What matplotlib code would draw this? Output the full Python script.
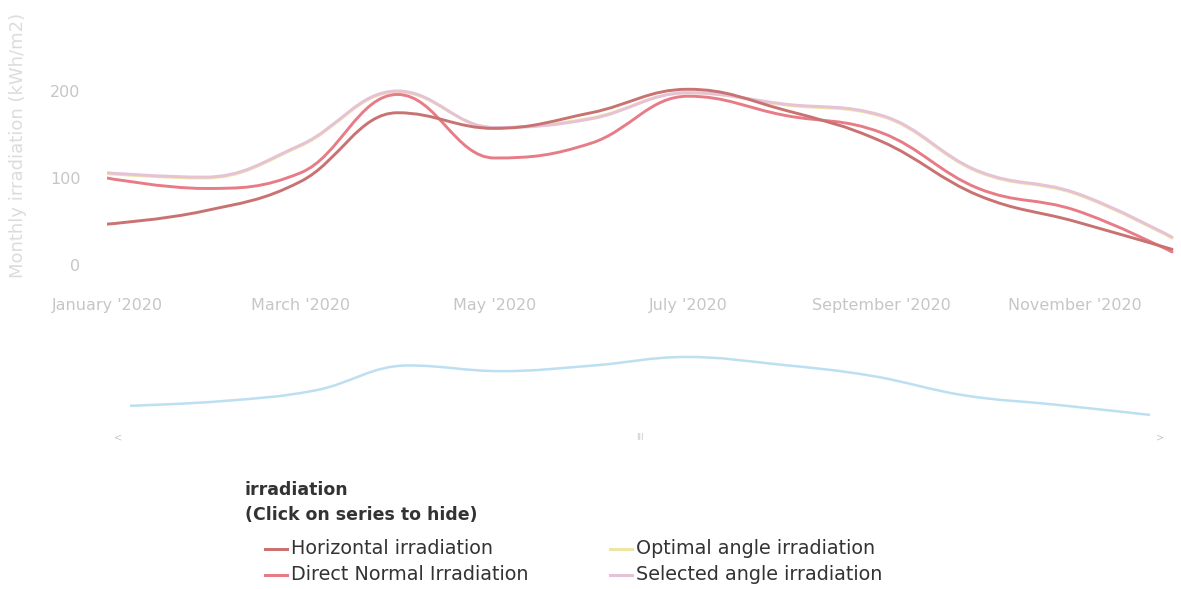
import matplotlib
matplotlib.use("Agg")
import matplotlib.pyplot as plt
import numpy as np
from matplotlib.lines import Line2D
from matplotlib.path import Path
from matplotlib.patches import PathPatch

months = ["Jan", "Feb", "Mar", "Apr", "May", "Jun", "Jul", "Aug", "Sep", "Oct", "Nov", "Dec"]
tick_labels = ["January '2020", "March '2020", "May '2020", "July '2020", "September '2020", "November '2020"]
horizontal = [47, 62, 96, 175, 157, 175, 202, 178, 142, 80, 50, 18]
direct_normal = [100, 88, 106, 196, 123, 140, 194, 172, 152, 88, 63, 15]
optimal_angle = [105, 100, 137, 199, 158, 169, 198, 184, 171, 107, 82, 31]
selected_angle = [106, 101, 138, 200, 158, 168, 198, 185, 172, 108, 83, 32]
series_names = ["Horizontal irradiation", "Direct Normal Irradiation",
                "Optimal angle irradiation", "Selected angle irradiation"]
colors = ["#c97272", "#e87c86", "#efe3a6", "#e6c2d6"]

W, H = 1181, 589
fig = plt.figure(figsize=(W / 100, H / 100), dpi=100)


def frac(x0, y0, x1, y1):
    return [x0 / W, 1 - y1 / H, (x1 - x0) / W, (y1 - y0) / H]


def spline_path(xs, ys, smoothing=1.5):
    """Highcharts-style spline as cubic Bezier path (data coordinates)."""
    xs = np.asarray(xs, float)
    ys = np.asarray(ys, float)
    n = len(xs)
    denom = smoothing + 1
    left = [None] * n
    right = [None] * n
    for i in range(1, n - 1):
        lx, ly = xs[i - 1], ys[i - 1]
        nx, ny = xs[i + 1], ys[i + 1]
        px, py = xs[i], ys[i]
        lcx = (smoothing * px + lx) / denom
        lcy = (smoothing * py + ly) / denom
        rcx = (smoothing * px + nx) / denom
        rcy = (smoothing * py + ny) / denom
        if rcx != lcx:
            corr = ((rcy - lcy) * (rcx - px)) / (rcx - lcx) + py - rcy
            lcy += corr
            rcy += corr
        if lcy > ly and lcy > py:
            lcy = max(ly, py)
            rcy = 2 * py - lcy
        elif lcy < ly and lcy < py:
            lcy = min(ly, py)
            rcy = 2 * py - lcy
        if rcy > ny and rcy > py:
            rcy = max(ny, py)
            lcy = 2 * py - rcy
        elif rcy < ny and rcy < py:
            rcy = min(ny, py)
            lcy = 2 * py - rcy
        left[i] = (lcx, lcy)
        right[i] = (rcx, rcy)
    right[0] = (xs[0], ys[0])
    left[n - 1] = (xs[n - 1], ys[n - 1])
    verts = [(xs[0], ys[0])]
    codes = [Path.MOVETO]
    for i in range(1, n):
        verts += [right[i - 1], left[i], (xs[i], ys[i])]
        codes += [Path.CURVE4] * 3
    return Path(verts, codes)


x = list(range(len(months)))
data = [horizontal, direct_normal, optimal_angle, selected_angle]

ax = fig.add_axes(frac(107, 47.5, 1175, 265))
for i, z in zip([2, 3, 1, 0], [3, 4, 5, 6]):
    ax.add_patch(PathPatch(spline_path(x, data[i]), facecolor="none",
                           edgecolor=colors[i], lw=2.1, zorder=z, capstyle="round"))
ax.set_xlim(0, 11.03)
ax.set_ylim(0, 250)
ax.set_yticks([0, 100, 200])
ax.set_yticklabels(["0", "100", "200"])
ax.set_xticks([0, 2, 4, 6, 8, 10])
ax.set_xticklabels(tick_labels)
for s in ax.spines.values():
    s.set_visible(False)
ax.tick_params(axis="both", length=0, colors="#c6c6c6", labelsize=11.5)
ax.tick_params(axis="y", pad=19)
ax.tick_params(axis="x", pad=24)
ax.set_ylabel("Monthly irradiation (kWh/m2)", color="#dcdcdc", fontsize=13)
ax.yaxis.set_label_coords(-0.075, 0.55)

# navigator
nav = fig.add_axes(frac(130, 345, 1150, 425))
nav.add_patch(PathPatch(spline_path(x, horizontal), facecolor="none",
                        edgecolor="#bcdff2", lw=1.8))
nav.set_xlim(0, 11)
nav.set_ylim(-14, 240)
nav.axis("off")
fig.text(118 / W, 1 - 437 / H, "<", color="#c8c8c8", fontsize=7, ha="center", va="center")
fig.text(1160 / W, 1 - 437 / H, ">", color="#c8c8c8", fontsize=7, ha="center", va="center")
fig.text(640 / W, 1 - 437 / H, "III", color="#c8c8c8", fontsize=6, ha="center", va="center")

# legend
fig.text(245 / W, 1 - 490 / H, "irradiation", fontsize=12.5, fontweight="bold",
         color="#333333", va="center")
fig.text(245 / W, 1 - 515 / H, "(Click on series to hide)", fontsize=12.5,
         fontweight="bold", color="#333333", va="center")
positions = [(265, 549), (265, 575), (610, 549), (610, 575)]
for (px, py), name, c in zip(positions, series_names, colors):
    fig.add_artist(Line2D([px / W, (px + 22) / W], [1 - py / H, 1 - py / H],
                          color=c, lw=2.2, transform=fig.transFigure))
    fig.text((px + 26) / W, 1 - py / H, name, fontsize=13.8, color="#333333",
             va="center", ha="left")

fig.savefig("out.png", dpi=100)
